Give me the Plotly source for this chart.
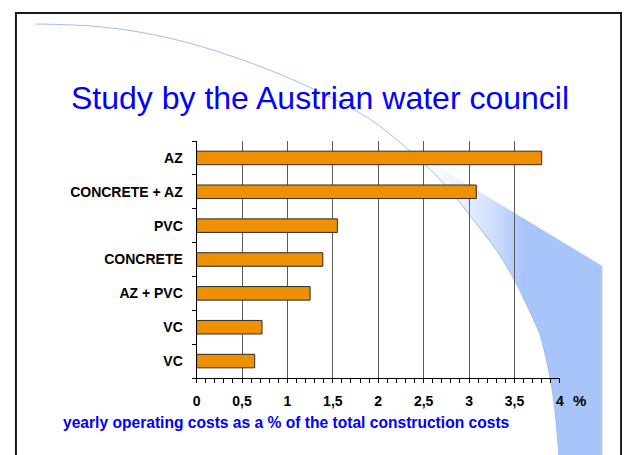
import plotly.graph_objects as go

# data
materials = ["AZ", "CONCRETE + AZ", "PVC", "CONCRETE", "AZ + PVC", "VC", "VC"]
costs = [3.8, 3.08, 1.55, 1.39, 1.25, 0.72, 0.64]
x_ticks = [0, 0.5, 1, 1.5, 2, 2.5, 3, 3.5, 4]
x_tick_labels = ["0", "0,5", "1", "1,5", "2", "2,5", "3", "3,5", "4"]

TITLE = "Study by the Austrian water council"
X_TITLE = "yearly operating costs as a % of the total construction costs"

# page is 630x455 but the html body adds an 8px margin, so the figure is
# sized to fit and the background axis is laid out in page pixels
PAGE_W, PAGE_H, OFF = 630, 455, 8
W, H = PAGE_W - OFF, PAGE_H - OFF
FONT = "Arial, Liberation Sans, sans-serif"
BLUE = "#0000FF"

# plot area in page pixels
PX0, PX1, PY0, PY1 = 195, 563, 141, 378

# slide decoration (page pixel coords)
curve_x = [32, 100, 167, 233, 300, 367, 410, 447, 470, 500, 517, 527, 543, 553, 558, 562]
curve_y = [24, 27, 38, 57, 83, 117, 150, 185, 213, 252, 280, 300, 335, 377, 410, 455]
wedge_x = [405, 606, 606, 562, 558, 553, 543, 527, 517, 500, 470, 447, 425, 405]
wedge_y = [146, 266, 455, 455, 410, 377, 335, 300, 280, 252, 213, 185, 164, 146]


def px(x):
    return (x - OFF) / W


def py(y):
    return 1 - (y - OFF) / H


fig = go.Figure()

# background layer: swoosh + gradient wedge
fig.add_trace(go.Scatter(
    x=wedge_x, y=wedge_y, mode="lines", fill="toself",
    line=dict(width=0),
    fillgradient=dict(type="horizontal",
                      colorscale=[[0, "rgba(255,255,255,0)"], [0.6, "#A8C4FA"], [1, "#A8C4FA"]]),
    xaxis="x", yaxis="y", hoverinfo="skip", showlegend=False,
))
fig.add_trace(go.Scatter(
    x=curve_x, y=curve_y, mode="lines",
    line=dict(color="#9DBDFB", width=1, shape="spline"),
    xaxis="x", yaxis="y", hoverinfo="skip", showlegend=False,
))

# the chart itself
fig.add_trace(go.Bar(
    x=costs, y=list(range(len(materials))), orientation="h",
    width=0.4,
    marker=dict(color="#EE9000", line=dict(color="#2b2b2b", width=1)),
    xaxis="x2", yaxis="y2", hoverinfo="skip", showlegend=False,
))

fig.update_layout(
    width=W, height=H,
    margin=dict(l=0, r=0, t=0, b=0, pad=0),
    paper_bgcolor="white",
    plot_bgcolor="rgba(0,0,0,0)",
    font=dict(family=FONT, color="black"),
    hovermode=False,
    showlegend=False,
    xaxis=dict(domain=[0, 1], range=[OFF, PAGE_W], visible=False, fixedrange=True),
    yaxis=dict(domain=[0, 1], range=[PAGE_H, OFF], visible=False, fixedrange=True),
    xaxis2=dict(
        domain=[px(PX0), px(PX1)], anchor="y2", range=[0, 4],
        tickmode="array", tickvals=x_ticks, ticktext=x_tick_labels,
        ticks="outside", ticklen=4, tickcolor="black",
        tickfont=dict(family=FONT, size=14, color="black", weight="bold"),
        ticklabelstandoff=6,
        showline=True, linecolor="black", linewidth=1,
        showgrid=True, gridcolor="#5a5a5a", gridwidth=1,
        zeroline=False,
        minor=dict(dtick=0.1, ticks="outside", ticklen=4, tickcolor="black", showgrid=False),
    ),
    yaxis2=dict(
        domain=[py(PY1), py(PY0)], anchor="x2", range=[6.5, -0.5],
        tickmode="array", tickvals=list(range(len(materials))), ticktext=materials,
        ticks="",
        tickfont=dict(family=FONT, size=14, color="black", weight="bold"),
        ticklabelstandoff=10,
        showline=True, linecolor="black", linewidth=1,
        showgrid=False, zeroline=False,
        minor=dict(tick0=0.5, dtick=1, ticks="outside", ticklen=4, tickcolor="black", showgrid=False),
    ),
    shapes=[
        # slide frame
        dict(type="rect", xref="paper", yref="paper",
             x0=px(12), y0=-0.1, x1=px(625), y1=py(13),
             line=dict(color="#1a1a1a", width=2), fillcolor="rgba(0,0,0,0)", layer="above"),
    ],
    annotations=[
        dict(text=TITLE, xref="x", yref="y", x=320, y=98, xanchor="center", yanchor="middle",
             showarrow=False, font=dict(family=FONT, size=32, color=BLUE)),
        dict(text="%", xref="x", yref="y", x=583, y=400, xanchor="center", yanchor="middle",
             showarrow=False, font=dict(family=FONT, size=15, color="black", weight="bold")),
        dict(text=X_TITLE, xref="x", yref="y", x=58, y=422, xanchor="left", yanchor="middle",
             showarrow=False, font=dict(family=FONT, size=15.6, color=BLUE, weight="bold")),
    ],
)

fig.write_html("out.html")
